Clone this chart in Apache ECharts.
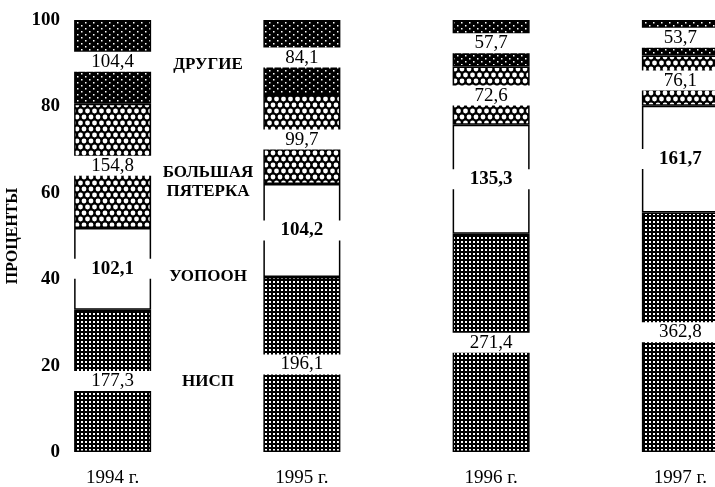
<!DOCTYPE html>
<html>
<head>
<meta charset="utf-8">
<script src="https://cdn.jsdelivr.net/npm/echarts@6/dist/echarts.min.js"></script>
<style>
  html, body { margin: 0; padding: 0; background: #fff; }
  #chart { width: 715px; height: 487px; }
</style>
</head>
<body>
<div id="chart"></div>
<script>
// data (million $ per group, bars show share in %)
const years = ['1994 г.', '1995 г.', '1996 г.', '1997 г.'];
const seriesNames = ['НИСП', 'УОПООН', 'БОЛЬШАЯ\nПЯТЕРКА', 'ДРУГИЕ'];
const nisp = [177.3, 196.1, 271.4, 362.8];
const upoon = [102.1, 104.2, 135.3, 161.7];
const big5 = [154.8, 99.7, 72.6, 76.1];
const others = [104.4, 84.1, 57.7, 53.7];
const yTicks = [0, 20, 40, 60, 80, 100];

const serif = '"Liberation Serif", "DejaVu Serif", serif';

// hatch patterns like the printed figure
function tile(w, h, draw) {
  const c = document.createElement('canvas');
  c.width = w; c.height = h;
  const ctx = c.getContext('2d');
  draw(ctx);
  return { image: c, repeat: 'repeat' };
}
const gridPattern = tile(4, 4, ctx => {
  ctx.fillStyle = '#000'; ctx.fillRect(0, 0, 4, 4);
  ctx.fillStyle = '#fff'; ctx.fillRect(1, 1, 2, 2);
});
const hexPattern = tile(7, 12, ctx => {
  ctx.fillStyle = '#000'; ctx.fillRect(0, 0, 7, 12);
  ctx.fillStyle = '#fff';
  [[3.5, 3], [0, 9], [7, 9]].forEach(([x, y]) => {
    ctx.beginPath(); ctx.arc(x, y, 2.4, 0, Math.PI * 2); ctx.fill();
  });
});
const dotPattern = tile(8, 6, ctx => {
  ctx.fillStyle = '#000'; ctx.fillRect(0, 0, 8, 6);
  ctx.fillStyle = '#fff';
  ctx.fillRect(1, 1, 1.5, 1.5);
  ctx.fillRect(5, 4, 1.5, 1.5);
});

const groups = [nisp, upoon, big5, others];
const totals = years.map((_, i) => groups.reduce((s, g) => s + g[i], 0));
const fills = [gridPattern, '#fff', hexPattern, dotPattern];

const series = groups.map((g, k) => ({
  name: seriesNames[k],
  type: 'bar',
  stack: 'all',
  barWidth: 77,
  data: g.map((v, i) => ({ value: v / totals[i] * 100, raw: v })),
  itemStyle: { color: fills[k], borderColor: '#000', borderWidth: 1.5 },
  label: {
    show: true,
    position: 'inside',
    formatter: p => p.data.raw.toFixed(1).replace('.', ','),
    backgroundColor: '#fff',
    width: 80,
    align: 'center',
    padding: [1, 0, 0, 0],
    color: '#000',
    fontFamily: serif,
    fontSize: 19,
    fontWeight: k === 1 ? 'bold' : 'normal'
  }
}));

// group names written between the first two bars
const nameY = [382, 277, 182, 65];
const graphic = seriesNames.map((n, k) => ({
  type: 'text',
  x: 208,
  y: nameY[k],
  style: {
    text: n,
    fill: '#000',
    font: 'bold 17px ' + serif,
    align: 'center',
    verticalAlign: 'middle',
    lineHeight: 19
  }
}));

const chart = echarts.init(document.getElementById('chart'));
chart.setOption({
  animation: false,
  backgroundColor: '#fff',
  grid: { left: 18, top: 20, bottom: 35, width: 757, outerBoundsMode: 'none', containLabel: false },
  xAxis: {
    type: 'category',
    data: years,
    axisLine: { show: false },
    axisTick: { show: false },
    axisLabel: { color: '#000', fontFamily: serif, fontSize: 19, margin: 17 }
  },
  yAxis: {
    type: 'value',
    min: yTicks[0],
    max: yTicks[yTicks.length - 1],
    interval: 20,
    offset: -46,
    name: 'ПРОЦЕНТЫ',
    nameLocation: 'middle',
    nameRotate: 90,
    nameGap: 30,
    nameTextStyle: { color: '#000', fontFamily: serif, fontSize: 16, fontWeight: 'bold' },
    axisLine: { show: false },
    axisTick: { show: false },
    splitLine: { show: false },
    axisLabel: { color: '#000', fontFamily: serif, fontSize: 19, fontWeight: 'bold', margin: 4 }
  },
  series: series,
  graphic: graphic
});
</script>
</body>
</html>
